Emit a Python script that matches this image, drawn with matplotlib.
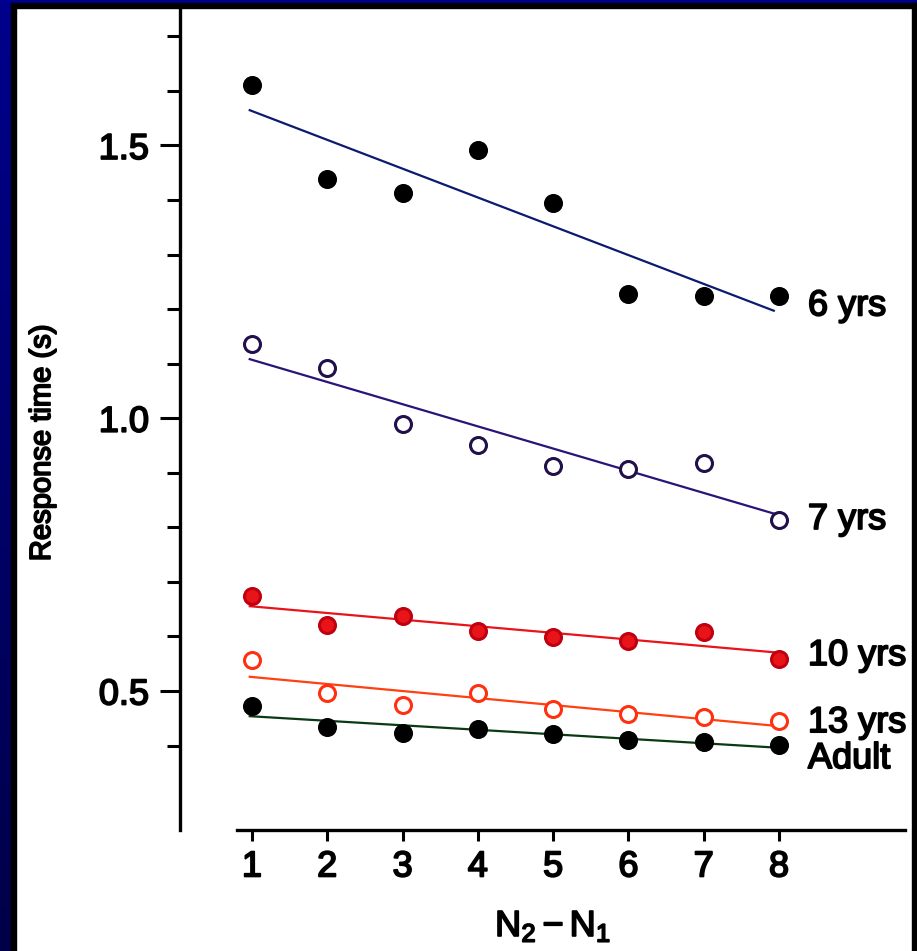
import numpy as np
import matplotlib
matplotlib.use('Agg')
from matplotlib import pyplot as plt
from matplotlib.patches import Rectangle
from matplotlib.ticker import FixedLocator
import matplotlib.patheffects as pe

plt.rcParams['font.family'] = ['Liberation Sans', 'DejaVu Sans']
plt.rcParams['mathtext.fontset'] = 'custom'
plt.rcParams['mathtext.rm'] = 'Liberation Sans'
plt.rcParams['mathtext.it'] = 'Liberation Sans'

# data
n_diff = [1, 2, 3, 4, 5, 6, 7, 8]
rt_6yrs = [1.611, 1.439, 1.413, 1.492, 1.395, 1.228, 1.224, 1.224]
rt_7yrs = [1.136, 1.092, 0.989, 0.951, 0.912, 0.907, 0.918, 0.813]
rt_10yrs = [0.674, 0.621, 0.638, 0.610, 0.599, 0.592, 0.608, 0.559]
rt_13yrs = [0.557, 0.496, 0.474, 0.496, 0.467, 0.458, 0.452, 0.445]
rt_adult = [0.473, 0.434, 0.423, 0.430, 0.421, 0.410, 0.406, 0.401]
group_names = ['6 yrs', '7 yrs', '10 yrs', '13 yrs', 'Adult']
y_ticks = [0.5, 1.0, 1.5]
y_minor = [0.4, 0.6, 0.7, 0.8, 0.9, 1.1, 1.2, 1.3, 1.4, 1.6, 1.7]

W, H, DPI = 917, 951, 100
fig = plt.figure(figsize=(W / DPI, H / DPI), dpi=DPI, facecolor='white')
bold = [pe.withStroke(linewidth=1.3, foreground='black')]

# frame around the slide
grad = np.linspace(0, 1, 256).reshape(-1, 1)
bax = fig.add_axes([0, 0, 11 / W, 1])
bax.imshow(grad, aspect='auto', cmap=matplotlib.colors.LinearSegmentedColormap.from_list(
    'nv', ['#00008c', '#000048']), extent=[0, 1, 0, 1])
bax.axis('off')
fig.add_artist(Rectangle((0, 1 - 3 / H), 1, 3 / H, color='#000090', transform=fig.transFigure))
fig.add_artist(Rectangle((11 / W, 0), 5 / W, 1 - 3 / H, color='black', transform=fig.transFigure))
fig.add_artist(Rectangle((11 / W, 1 - 8 / H), 1, 5 / H, color='black', transform=fig.transFigure))
fig.add_artist(Rectangle((912 / W, 0), 5 / W, 1 - 3 / H, color='black', transform=fig.transFigure))

ax = fig.add_axes([237 / W, (H - 830) / H, 668 / W, 822 / H])
ax.set_xlim(0.801, 9.673)
ax.set_ylim(0.2452, 1.752)

styles = [
    dict(mfc='black', mec='black', line='#0c1a70'),
    dict(mfc='white', mec='#22104a', line='#2a1478'),
    dict(mfc='#e8141a', mec='#c00010', line='#e8141a'),
    dict(mfc='white', mec='#ff3010', line='#ff4010'),
    dict(mfc='black', mec='black', line='#0a3a12'),
]
series = [rt_6yrs, rt_7yrs, rt_10yrs, rt_13yrs, rt_adult]
label_y = [1.1885, 0.797, 0.5476, 0.4246, 0.3587]

x = np.array(n_diff)
for vals, st, name, ly in zip(series, styles, group_names, label_y):
    slope, icpt = np.polyfit(x, vals, 1)
    xl = np.array([0.97, 7.93])
    ax.plot(xl, icpt + slope * xl, color=st['line'], lw=1.6, zorder=2)
    ax.plot(x, vals, 'o', ms=11.5, mfc=st['mfc'], mec=st['mec'], mew=2.2, zorder=3)
    ax.text(8.384, ly, name, fontsize=26, va='baseline', ha='left', path_effects=bold)

for s in ['top', 'right']:
    ax.spines[s].set_visible(False)
ax.spines['left'].set_position(('outward', 41))
ax.spines['left'].set_linewidth(2.4)
ax.spines['bottom'].set_linewidth(2.4)

ax.set_xticks(n_diff)
ax.set_xticklabels([str(v) for v in n_diff])
ax.set_yticks(y_ticks)
ax.set_yticklabels(['0.5', '1.0', '1.5'])
ax.yaxis.set_minor_locator(FixedLocator(y_minor))
ax.tick_params(axis='x', length=8, width=2.2, pad=6, labelsize=26)
ax.tick_params(axis='y', which='major', length=14.4, width=2.2, pad=8, labelsize=26)
ax.tick_params(axis='y', which='minor', length=9.4, width=2.2)
for lab in ax.get_xticklabels() + ax.get_yticklabels():
    lab.set_path_effects(bold)

fig.text(553 / W, 1 - 936 / H, r'$\mathrm{N_2 - N_1}$', fontsize=26, ha='center', va='baseline',
         path_effects=bold)
fig.text(42 / W, 1 - 443 / H, 'Response time (s)', fontsize=21, rotation=90,
         ha='center', va='center', path_effects=bold)

fig.savefig('out.png', dpi=DPI, facecolor='white')
